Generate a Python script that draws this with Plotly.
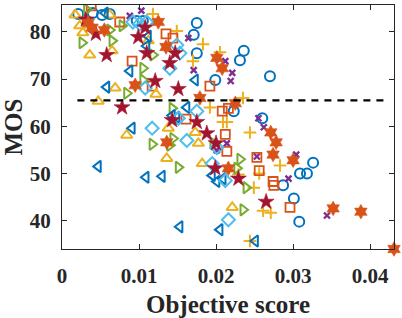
import plotly.graph_objects as go

# Data (Objective score, MOS) per series
circ_x = [0.0021, 0.0040, 0.0052, 0.0062, 0.0097, 0.0105, 0.0175, 0.0171, 0.0175, 0.0199, 0.0231,
          0.0236, 0.0270, 0.0223, 0.0260, 0.0326, 0.0309, 0.0318, 0.0287, 0.0301, 0.0308]
circ_y = [83.8, 84.0, 83.6, 83.8, 82.3, 82.3, 81.9, 79.4, 75.5, 69.8, 74.0,
          76.0, 70.6, 63.2, 61.7, 52.3, 50.0, 50.0, 47.5, 44.7, 39.8]

xm_x = [0.0088, 0.0103, 0.0164, 0.0171, 0.0212, 0.0221, 0.0219, 0.0214, 0.0201, 0.0255, 0.0262,
        0.0253, 0.0304, 0.0294, 0.0344]
xm_y = [83.4, 84.5, 78.7, 71.9, 73.8, 71.3, 69.6, 56.4, 54.9, 61.7, 59.8,
        53.6, 54.0, 48.9, 41.1]

plus_x = [0.0118, 0.0149, 0.0183, 0.0205, 0.0170, 0.0235, 0.0192, 0.0209, 0.0214, 0.0244, 0.0283,
          0.0256, 0.0229, 0.0249, 0.0261, 0.0271, 0.0244]
plus_y = [83.8, 80.2, 77.4, 75.7, 73.8, 66.0, 64.0, 60.9, 60.9, 58.7, 51.7,
          50.0, 49.8, 47.0, 42.1, 41.7, 35.7]

sq_x = [0.0038, 0.0075, 0.0091, 0.0135, 0.0144, 0.0117, 0.0161, 0.0192, 0.0208, 0.0216, 0.0212,
        0.0214, 0.0253, 0.0256, 0.0274, 0.0275, 0.0296]
sq_y = [85.5, 82.1, 73.8, 79.6, 78.7, 68.5, 61.5, 68.5, 63.2, 63.8, 58.3,
        54.7, 53.4, 50.6, 48.3, 47.5, 42.8]

tr_x = [0.0032, 0.0026, 0.0065, 0.0062, 0.0078, 0.0105, 0.0105, 0.0118, 0.0084, 0.0117, 0.0143,
        0.0144, 0.0140, 0.0196, 0.0151, 0.0231, 0.0227, 0.0239, 0.0235]
tr_y = [84.7, 77.7, 78.1, 80.4, 81.3, 72.3, 69.8, 75.1, 67.0, 56.2, 63.8,
        57.4, 56.0, 56.4, 51.3, 53.0, 51.1, 47.0, 42.3]

tu_x = [0.0017, 0.0023, 0.0027, 0.0036, 0.0065, 0.0062, 0.0112, 0.0047, 0.0069, 0.0084, 0.0122,
        0.0138, 0.0173, 0.0177, 0.0136, 0.0182, 0.0221]
tu_y = [83.6, 81.3, 79.8, 75.1, 76.0, 83.6, 78.1, 65.3, 68.1, 58.1, 66.8,
        59.6, 58.7, 56.4, 53.2, 52.1, 42.8]

tl_x = [0.0056, 0.0058, 0.0088, 0.0110, 0.0112, 0.0091, 0.0143, 0.0162, 0.0149, 0.0173, 0.0047,
        0.0109, 0.0130, 0.0195, 0.0201, 0.0209, 0.0153, 0.0205, 0.0251]
tl_y = [84.0, 68.3, 71.7, 77.0, 79.1, 59.6, 62.3, 64.0, 61.9, 69.8, 51.5,
        49.2, 49.4, 49.6, 48.3, 48.9, 38.7, 38.1, 35.7]

dm_x = [0.0092, 0.0101, 0.0110, 0.0108, 0.0117, 0.0149, 0.0153, 0.0140, 0.0175, 0.0162, 0.0151,
        0.0195, 0.0212, 0.0216, 0.0201]
dm_y = [82.1, 81.7, 82.1, 68.1, 59.6, 77.2, 75.5, 72.3, 63.2, 57.0, 61.7,
        52.1, 48.5, 40.2, 55.5]

pg_x = [0.0031, 0.0044, 0.0058, 0.0099, 0.0108, 0.0110, 0.0121, 0.0078, 0.0147, 0.0140, 0.0151,
        0.0143, 0.0175, 0.0188, 0.0200, 0.0199, 0.0229, 0.0265]
pg_y = [82.6, 79.6, 75.1, 78.9, 80.9, 75.5, 69.6, 64.0, 75.5, 73.4, 67.9,
        61.3, 60.9, 58.5, 56.4, 51.1, 48.9, 44.0]

hx_x = [0.0034, 0.0039, 0.0055, 0.0095, 0.0125, 0.0135, 0.0179, 0.0201, 0.0208, 0.0225, 0.0136,
        0.0216, 0.0271, 0.0278, 0.0274, 0.0300, 0.0352, 0.0388, 0.0431]
hx_y = [81.9, 80.9, 80.4, 68.7, 82.1, 76.8, 66.0, 74.5, 72.3, 64.9, 56.6,
        51.1, 58.7, 56.6, 54.0, 52.8, 42.6, 41.9, 34.0]

threshold = 65.5
thr_x = [0.002, 0.0424]

x_ticks = [0, 0.01, 0.02, 0.03, 0.04]
x_tick_text = ["0", "0.01", "0.02", "0.03", "0.04"]
y_ticks = [40, 50, 60, 70, 80]

BLUE = "#0072BD"; ORANGE = "#D95319"; YELLOW = "#EDB120"; PURPLE = "#7E2F8E"
GREEN = "#77AC30"; LBLUE = "#4DBEEE"; DRED = "#A2142F"

fig = go.Figure()

def add(x, y, symbol, color, size, lw=1.6, clip=True):
    m = dict(symbol=symbol, size=size, color=color, line=dict(color=color, width=lw))
    fig.add_trace(go.Scatter(x=x, y=y, mode="markers", marker=m, showlegend=False,
                             cliponaxis=clip, hoverinfo="skip"))

add(circ_x, circ_y, "circle-open", BLUE, 10, 2.0)
add(xm_x, xm_y, "x-thin-open", PURPLE, 6, 2.4)
add(plus_x, plus_y, "cross-thin-open", YELLOW, 9, 2.0)
add(sq_x, sq_y, "square-open", ORANGE, 9, 1.8)
add(tr_x, tr_y, "triangle-right-open", GREEN, 10, 2.0)
add(tu_x, tu_y, "triangle-up-open", YELLOW, 10, 2.0)
add(tl_x, tl_y, "triangle-left-open", BLUE, 10, 2.0)
add(dm_x, dm_y, "diamond-open", LBLUE, 10, 2.0)
add(pg_x, pg_y, "star", DRED, 12, 0.6)
add(hx_x, hx_y, "hexagram", ORANGE, 11, 0.6, clip=False)

fig.add_trace(go.Scatter(x=thr_x, y=[threshold, threshold], mode="lines", hoverinfo="skip",
                         line=dict(color="black", width=2.2, dash="7px,6px"), showlegend=False))

axis_common = dict(showline=True, linecolor="#262626", linewidth=1, mirror="allticks",
                   ticks="inside", ticklen=5, tickcolor="#262626", showgrid=False, zeroline=False,
                   automargin=False,
                   tickfont=dict(family="Liberation Serif", size=21, color="#262626", weight="bold"))

fig.update_layout(
    width=402, height=318,
    margin=dict(l=62, r=8, t=5, b=69),
    paper_bgcolor="white", plot_bgcolor="white",
    font=dict(family="Liberation Serif", color="#262626"),
    xaxis=dict(range=[0, 0.0431], tickvals=x_ticks, ticktext=x_tick_text,
               title=dict(text="Objective score", font=dict(size=25, weight="bold"), standoff=13),
               ticklabelstandoff=8, **axis_common),
    yaxis=dict(range=[34.0, 85.7], tickvals=y_ticks,
               title=dict(text="MOS", font=dict(size=25, weight="bold"), standoff=4),
               ticklabelstandoff=6, **axis_common),
)

fig.write_html("out.html", config={"displayModeBar": False},
               post_script="document.body.style.margin='0';")
